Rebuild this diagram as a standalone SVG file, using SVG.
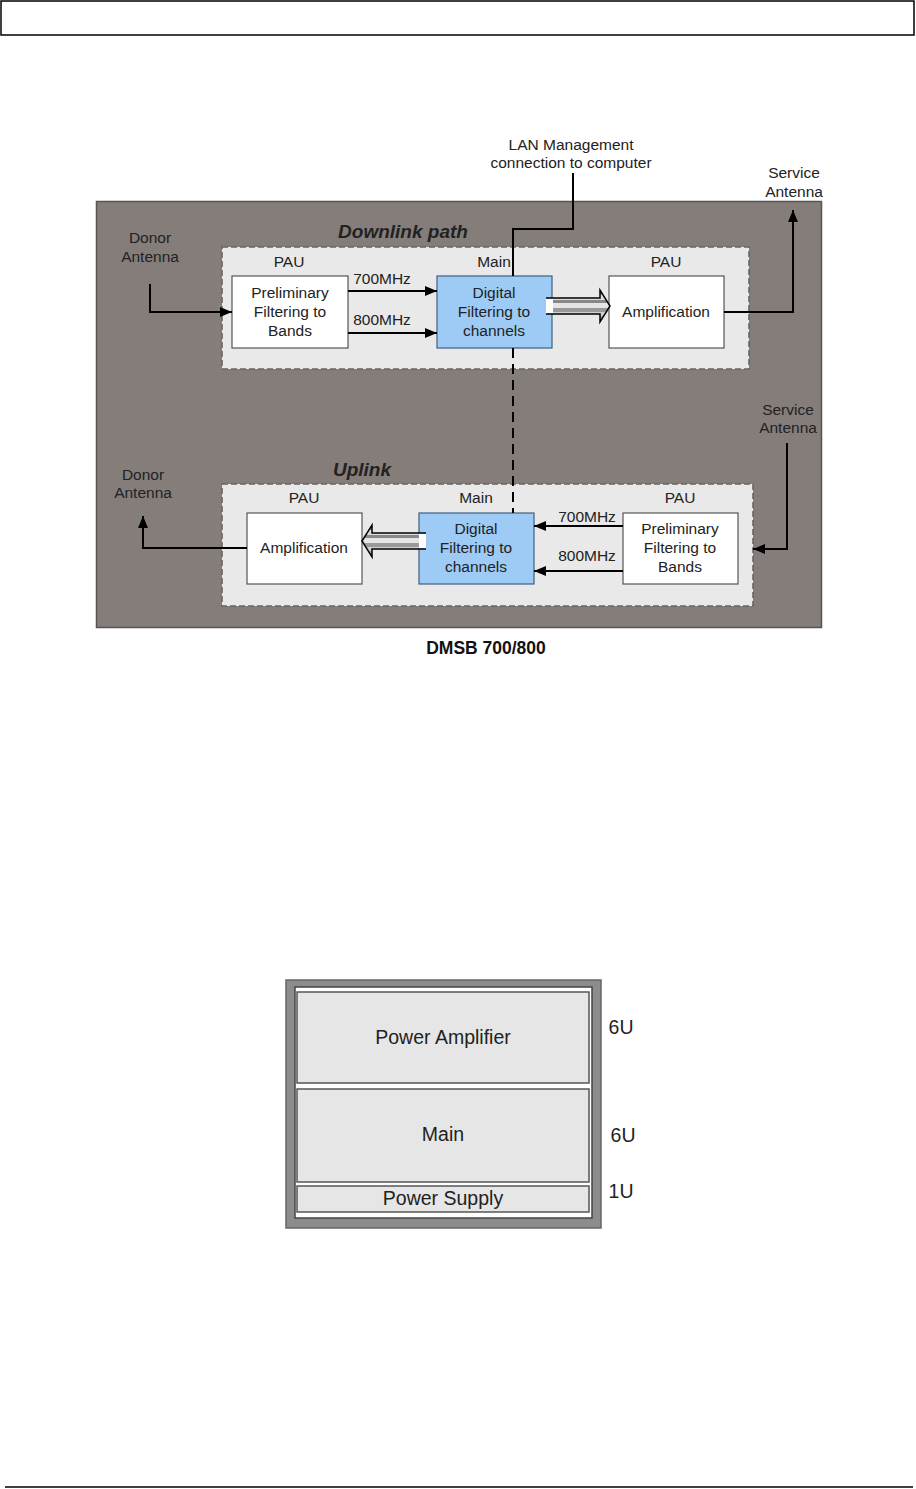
<svg xmlns="http://www.w3.org/2000/svg" width="916" height="1489" viewBox="0 0 916 1489">
<defs>
<style>
text{font-family:"Liberation Sans",Arial,sans-serif;font-size:15.5px;fill:#222;text-anchor:middle}
.ttl{font-weight:bold;font-style:italic;font-size:19px}
.cap{font-weight:bold;font-size:17.5px;fill:#111}
.rk{font-size:19.5px}
.box{fill:#fff;stroke:#555;stroke-width:1.2}
.blue{fill:#9dcbf6;stroke:#3f5f80;stroke-width:1.2}
.zone{fill:#e9e9e9;stroke:#666;stroke-width:1.6;stroke-dasharray:6 3}
.ln{fill:none;stroke:#000;stroke-width:2}
.arr{fill:none;stroke:#000;stroke-width:2;marker-end:url(#ah)}
.panel{fill:#e6e6e6;stroke:#555;stroke-width:1.5}
</style>
<marker id="ah" viewBox="0 0 12 10" refX="12" refY="5" markerWidth="12" markerHeight="10" markerUnits="userSpaceOnUse" orient="auto">
<path d="M0,0 L12,5 L0,10 Z" fill="#000"/>
</marker>
<linearGradient id="stripes" x1="0" y1="0" x2="0" y2="1">
<stop offset="0" stop-color="#999"/><stop offset="0.15" stop-color="#999"/>
<stop offset="0.15" stop-color="#ddd"/><stop offset="0.3" stop-color="#ddd"/>
<stop offset="0.3" stop-color="#888"/><stop offset="0.42" stop-color="#888"/>
<stop offset="0.42" stop-color="#e5e5e5"/><stop offset="0.55" stop-color="#e5e5e5"/>
<stop offset="0.55" stop-color="#999"/><stop offset="0.68" stop-color="#999"/>
<stop offset="0.68" stop-color="#d0d0d0"/><stop offset="0.82" stop-color="#d0d0d0"/>
<stop offset="0.82" stop-color="#aaa"/><stop offset="1" stop-color="#aaa"/>
</linearGradient>
</defs>

<rect x="1" y="1" width="913" height="34" fill="none" stroke="#000" stroke-width="1.5"/>
<line x1="5" y1="1487" x2="913" y2="1487" stroke="#000" stroke-width="1.5"/>

<g id="enclosure">
<rect x="96.5" y="201.5" width="725" height="426" fill="#847d7a" stroke="#555" stroke-width="1.5"/>
</g>

<g id="downlink-zone">
<rect class="zone" x="222" y="247" width="527" height="122"/>
<text class="ttl" x="403" y="238">Downlink path</text>
</g>
<g id="uplink-zone">
<rect class="zone" x="222" y="484" width="531" height="122"/>
<text class="ttl" x="362" y="476">Uplink</text>
</g>

<g id="dl-pau-filter">
<text x="289" y="267">PAU</text>
<rect class="box" x="232" y="276" width="116" height="72"/>
<text x="290" y="298">Preliminary</text>
<text x="290" y="317">Filtering to</text>
<text x="290" y="336">Bands</text>
</g>
<g id="dl-main">
<text x="494" y="267">Main</text>
<rect class="blue" x="437" y="276" width="115" height="72"/>
<text x="494" y="298">Digital</text>
<text x="494" y="317">Filtering to</text>
<text x="494" y="336">channels</text>
</g>
<g id="dl-pau-amp">
<text x="666" y="267">PAU</text>
<rect class="box" x="609" y="276" width="115" height="72"/>
<text x="666" y="317">Amplification</text>
</g>

<g id="ul-pau-amp">
<text x="304" y="503">PAU</text>
<rect class="box" x="247" y="513" width="115" height="71"/>
<text x="304" y="553">Amplification</text>
</g>
<g id="ul-main">
<text x="476" y="503">Main</text>
<rect class="blue" x="419" y="513" width="115" height="71"/>
<text x="476" y="534">Digital</text>
<text x="476" y="553">Filtering to</text>
<text x="476" y="572">channels</text>
</g>
<g id="ul-pau-filter">
<text x="680" y="503">PAU</text>
<rect class="box" x="623" y="513" width="115" height="71"/>
<text x="680" y="534">Preliminary</text>
<text x="680" y="553">Filtering to</text>
<text x="680" y="572">Bands</text>
</g>

<g id="labels">
<text x="150" y="243">Donor</text>
<text x="150" y="262">Antenna</text>
<text x="571" y="150">LAN Management</text>
<text x="571" y="168">connection to computer</text>
<text x="794" y="178">Service</text>
<text x="794" y="197">Antenna</text>
<text x="143" y="480">Donor</text>
<text x="143" y="498">Antenna</text>
<text x="788" y="415">Service</text>
<text x="788" y="433">Antenna</text>
<text x="382" y="284">700MHz</text>
<text x="382" y="325">800MHz</text>
<text x="587" y="522">700MHz</text>
<text x="587" y="561">800MHz</text>
</g>

<g id="connectors">
<path class="arr" d="M150,284 V312 H232"/>
<path class="arr" d="M348,291 H437"/>
<path class="arr" d="M348,333 H437"/>
<path class="ln" d="M573,173 V229 H513 V276"/>
<path class="arr" d="M724,312 H793 V210"/>
<line x1="513" y1="348" x2="513" y2="513" stroke="#000" stroke-width="2" stroke-dasharray="10 6"/>
<path class="arr" d="M623,526 H534"/>
<path class="arr" d="M623,571 H534"/>
<path class="arr" d="M787,443 V549 H753"/>
<path class="arr" d="M247,548 H143 V516"/>
<path d="M546,298 H600 V290 L610,306 L600,322 V314 H546 Z" fill="url(#stripes)"/>
<path d="M546,298 H600 V290 L610,306 L600,322 V314 H546" fill="none" stroke="#000" stroke-width="1.5"/>
<rect x="546" y="299" width="7" height="14" fill="#fff"/>
<path d="M426,533 H372 V525 L362,541 L372,557 V549 H426 Z" fill="url(#stripes)"/>
<path d="M426,533 H372 V525 L362,541 L372,557 V549 H426" fill="none" stroke="#000" stroke-width="1.5"/>
<rect x="419" y="534" width="7" height="14" fill="#fff"/>
</g>

<text class="cap" x="486" y="654">DMSB 700/800</text>

<g id="rack">
<rect x="286" y="980" width="315" height="248" fill="#8c8c8c" stroke="#666" stroke-width="1.5"/>
<rect x="295" y="987" width="297" height="231" fill="#fff" stroke="#444" stroke-width="1.5"/>
</g>
<g id="power-amplifier">
<rect class="panel" x="297" y="992" width="292" height="91"/>
<text class="rk" x="443" y="1044">Power Amplifier</text>
</g>
<g id="main">
<rect class="panel" x="297" y="1089" width="292" height="93"/>
<text class="rk" x="443" y="1141">Main</text>
</g>
<g id="power-supply">
<rect class="panel" x="297" y="1186" width="292" height="26"/>
<text class="rk" x="443" y="1205">Power Supply</text>
</g>
<g id="units">
<text class="rk" x="621" y="1034">6U</text>
<text class="rk" x="623" y="1142">6U</text>
<text class="rk" x="621" y="1198">1U</text>
</g>
</svg>
